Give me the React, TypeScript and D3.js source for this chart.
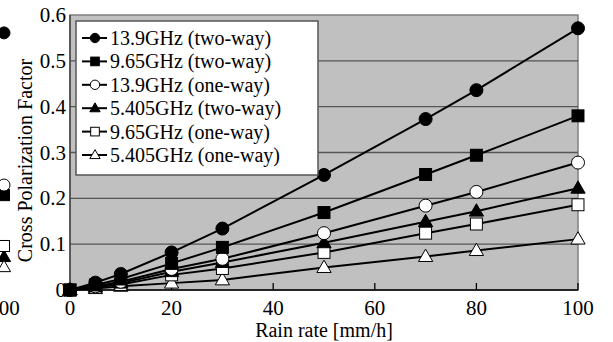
import React from "react";
import * as d3 from "d3";

const rainRates = [0, 5, 10, 20, 30, 50, 70, 80, 100];
const seriesNames = [
  "13.9GHz (two-way)",
  "9.65GHz (two-way)",
  "13.9GHz (one-way)",
  "5.405GHz (two-way)",
  "9.65GHz (one-way)",
  "5.405GHz (one-way)",
];
const seriesShapes = ["circle", "square", "circle", "triangle", "square", "triangle"];
const seriesFilled = [true, true, false, true, false, false];
const v139Two = [0, 0.016, 0.035, 0.082, 0.134, 0.251, 0.373, 0.436, 0.571];
const v965Two = [0, 0.011, 0.024, 0.058, 0.093, 0.169, 0.252, 0.294, 0.38];
const v139One = [0, 0.008, 0.018, 0.046, 0.068, 0.124, 0.184, 0.214, 0.278];
const v5405Two = [0, 0.007, 0.015, 0.04, 0.06, 0.103, 0.149, 0.172, 0.222];
const v965One = [0, 0.006, 0.012, 0.033, 0.047, 0.082, 0.124, 0.144, 0.186];
const v5405One = [0, 0.003, 0.008, 0.015, 0.022, 0.049, 0.073, 0.086, 0.111];
const seriesValues = [v139Two, v965Two, v139One, v5405Two, v965One, v5405One];

// partially visible neighbouring panel (only its x=100 points survive at the left edge)
const neighborValues = [0.561, 0.207, 0.229, 0.072, 0.096, 0.05];
const neighborTickLabel = "100";

const xTicks = [0, 20, 40, 60, 80, 100];
const yTicks = [0, 0.1, 0.2, 0.3, 0.4, 0.5, 0.6];
const xTitle = "Rain rate [mm/h]";
const yTitle = "Cross Polarization Factor";

const FONT = "Liberation Serif, Times New Roman, serif";
const ts = { fontFamily: FONT };

function Marker({ shape, filled, x, y, s }: { shape: string; filled: boolean; x: number; y: number; s: number }) {
  const fill = filled ? "#000" : "#fff";
  const stroke = "#000";
  if (shape === "circle") return <circle cx={x} cy={y} r={s} fill={fill} stroke={stroke} strokeWidth={1} />;
  if (shape === "square")
    return <rect x={x - s * 0.92} y={y - s * 0.92} width={s * 1.84} height={s * 1.84} fill={fill} stroke={stroke} strokeWidth={1} />;
  const h = s * 1.9;
  const w = s * 1.1;
  return (
    <path
      d={`M${x},${y - h * 0.6}L${x + w},${y + h * 0.4}L${x - w},${y + h * 0.4}Z`}
      fill={fill}
      stroke={stroke}
      strokeWidth={1}
    />
  );
}

export default function App() {
  const W = 613;
  const H = 342;
  const left = 70;
  const right = 578;
  const top = 15;
  const bottom = 290;
  const x = d3.scaleLinear().domain([0, 100]).range([left, right]);
  const y = d3.scaleLinear().domain([0, 0.6]).range([bottom, top]);
  const xn = d3.scaleLinear().domain([0, 100]).range([4 - (right - left), 4]);
  const line = d3
    .line<number>()
    .x((_, i) => x(rainRates[i]))
    .y((d) => y(d));

  const legX = 76;
  const legY = 21;
  const legW = 242;
  const legH = 154;
  const rowH = 23.4;

  return (
    <svg width={W} height={H} style={{ position: "absolute", left: 0, top: 0, fontFamily: FONT }}>
      <rect x={0} y={0} width={W} height={H} fill="#fff" />
      {/* neighbour fragments */}
      {neighborValues.map((v, i) => (
        <Marker key={"n" + i} shape={seriesShapes[i]} filled={seriesFilled[i]} x={xn(100)} y={y(v)} s={6} />
      ))}
      <text x={xn(100)} y={315} fontSize={21} textAnchor="middle" fill="#000" style={ts}>
        {neighborTickLabel}
      </text>

      <rect x={left} y={top} width={right - left} height={bottom - top} fill="#c0c0c0" stroke="#808080" strokeWidth={1.5} />
      {yTicks.slice(1, -1).map((t) => (
        <line key={t} x1={left} x2={right} y1={y(t)} y2={y(t)} stroke="#555" strokeWidth={1.3} />
      ))}
      <line x1={left} x2={left} y1={top} y2={bottom} stroke="#444" strokeWidth={1.5} />
      <line x1={left} x2={right} y1={bottom} y2={bottom} stroke="#000" strokeWidth={1.5} />
      {xTicks.map((t) => (
        <line key={t} x1={x(t)} x2={x(t)} y1={bottom} y2={bottom - 7} stroke="#000" strokeWidth={1.3} />
      ))}
      {yTicks.map((t) => (
        <text key={t} x={left - 4} y={y(t) + 7} fontSize={21} textAnchor="end" fill="#000" style={ts}>
          {t === 0 ? "0" : t.toFixed(1)}
        </text>
      ))}
      {xTicks.map((t) => (
        <text key={t} x={x(t)} y={315} fontSize={21} textAnchor="middle" fill="#000" style={ts}>
          {t}
        </text>
      ))}
      <text x={(left + right) / 2} y={337} fontSize={20} textAnchor="middle" fill="#000" style={ts}>
        {xTitle}
      </text>
      <text
        transform={`translate(32,${(top + bottom) / 2 + 8}) rotate(-90)`}
        fontSize={20}
        textAnchor="middle"
        fill="#000"
        style={ts}
      >
        {yTitle}
      </text>

      {seriesValues.map((vals, i) => (
        <path key={"l" + i} d={line(vals) || ""} fill="none" stroke="#000" strokeWidth={2} />
      ))}
      {seriesValues
        .map((vals, i) => ({ vals, i }))
        .reverse()
        .map(({ vals, i }) =>
          vals.map((v, j) => (
            <Marker key={i + "-" + j} shape={seriesShapes[i]} filled={seriesFilled[i]} x={x(rainRates[j])} y={y(v)} s={6.5} />
          ))
        )}

      <rect x={legX} y={legY} width={legW} height={legH} fill="#fff" stroke="#555" strokeWidth={1.5} />
      {seriesNames.map((n, i) => {
        const cy = legY + 17 + i * rowH;
        return (
          <g key={n}>
            <line x1={legX + 6} x2={legX + 31} y1={cy} y2={cy} stroke="#000" strokeWidth={2} />
            <Marker shape={seriesShapes[i]} filled={seriesFilled[i]} x={legX + 19} y={cy} s={4.7} />
            <text x={legX + 34} y={cy + 7} fontSize={20} fill="#000" style={ts}>
              {n}
            </text>
          </g>
        );
      })}
    </svg>
  );
}
